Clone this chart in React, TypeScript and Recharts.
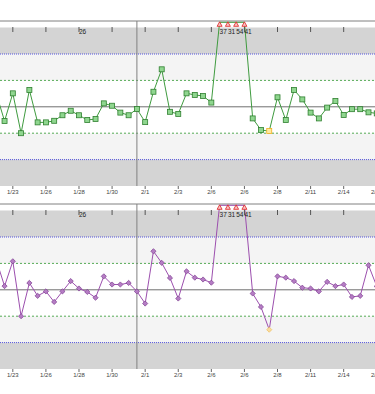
import React from 'react';
import { ComposedChart, Line, XAxis, YAxis, ReferenceArea, ReferenceLine } from 'recharts';

// x-axis labels, one every 4 runs starting at run index 2
const tickLabels = ['1/23', '1/26', '1/28', '1/30', '2/1', '2/3', '2/6', '2/6', '2/8', '2/11', '2/14', '2/16'];
const FIRST_TICK = 2;
const TICK_STEP = 4;

// values in SD units, runs 0..46 (4 = above range)
const topValues = [
  0.5, -0.54, 0.51, -1.0, 0.64, -0.59, -0.59, -0.53, -0.32, -0.15,
  -0.32, -0.5, -0.46, 0.13, 0.04, -0.22, -0.32, -0.08, -0.58, 0.57,
  1.42, -0.19, -0.27, 0.51, 0.45, 0.41, 0.16, 4, 4, 4,
  4, -0.44, -0.88, -0.92, 0.36, -0.5, 0.64, 0.28, -0.22, -0.44,
  -0.03, 0.22, -0.31, -0.09, -0.09, -0.21, -0.25,
];
const bottomValues = [
  1.13, 0.14, 1.08, -1.0, 0.26, -0.23, -0.06, -0.46, -0.06, 0.33,
  0.05, -0.08, -0.3, 0.51, 0.2, 0.2, 0.26, -0.06, -0.52, 1.46,
  1.02, 0.45, -0.33, 0.7, 0.46, 0.39, 0.27, 4, 4, 4,
  4, -0.14, -0.65, -1.51, 0.51, 0.46, 0.33, 0.08, 0.05, -0.06,
  0.3, 0.14, 0.2, -0.27, -0.23, 0.93, 0.13,
];
const warnRuns = [33];
const notes = [
  { i: 10, text: '26' },
  { i: 27, text: '37' },
  { i: 28, text: '31' },
  { i: 29, text: '54' },
  { i: 30, text: '41' },
];
const markerRun = 17;

const Y_MIN = -3;
const Y_MAX = 3.25;
const CLAMP = 3.2;
const X_MIN = 0.45;
const X_MAX = 47.6;

const majorTicks = tickLabels.map((_, k) => FIRST_TICK + k * TICK_STEP);
const topTicks = new Set([...majorTicks, ...notes.map(n => n.i)]);

const data = topValues.map((v, i) => ({
  i,
  top: Math.min(v, CLAMP),
  bottom: Math.min(bottomValues[i], CLAMP),
  edge: topTicks.has(i) ? Y_MAX : null,
}));

// small inner ticks along the top frame plus the run notes
const edgeDot = (props: any) => {
  const { cx, cy, index } = props;
  const key = `edge-${index}`;
  if (cx == null || cy == null || !topTicks.has(index)) return <g key={key} />;
  const note = notes.find(n => n.i === index);
  const major = (index - FIRST_TICK) % TICK_STEP === 0;
  return (
    <g key={key}>
      {major && <line x1={cx} x2={cx} y1={cy + 6} y2={cy + 11} stroke="#555" strokeWidth={1} />}
      {note && (
        <text x={cx} y={cy + 13} fontSize={6.5} fill="#222" textAnchor="start">
          {note.text}
        </text>
      )}
    </g>
  );
};

const makeDot = (raw: number[], kind: 'square' | 'diamond') => (props: any) => {
  const { cx, cy, index } = props;
  const key = `dot-${index}`;
  if (cx == null || cy == null) return <g key={key} />;
  if (raw[index] > CLAMP) {
    return (
      <polygon
        key={key}
        points={`${cx},${cy - 0.5} ${cx - 2.5},${cy + 4} ${cx + 2.5},${cy + 4}`}
        fill="#f7c4c4"
        stroke="#e02020"
        strokeWidth={0.8}
      />
    );
  }
  const warn = warnRuns.includes(index);
  if (kind === 'square') {
    return (
      <rect
        key={key}
        x={cx - 2.5}
        y={cy - 2.5}
        width={5}
        height={5}
        fill={warn ? '#ffe9a0' : '#8fd68f'}
        stroke={warn ? '#f0b020' : '#2f7f2f'}
        strokeWidth={0.8}
      />
    );
  }
  const s = 2.6;
  return (
    <polygon
      key={key}
      points={`${cx},${cy - s} ${cx + s},${cy} ${cx},${cy + s} ${cx - s},${cy}`}
      fill={warn ? '#f8dca0' : '#b57cc4'}
      stroke={warn ? '#f0c060' : '#7d3d8f'}
      strokeWidth={0.7}
    />
  );
};

const Panel = ({ dataKey, color, raw, kind }: { dataKey: string; color: string; raw: number[]; kind: 'square' | 'diamond' }) => (
  <ComposedChart width={390} height={200} data={data} margin={{ top: 21, right: 0, bottom: 0, left: 0 }}>
    <XAxis
      type="number"
      dataKey="i"
      domain={[X_MIN, X_MAX]}
      allowDataOverflow
      ticks={majorTicks}
      interval={0}
      height={14}
      tickSize={3}
      tickMargin={1}
      axisLine={false}
      tickLine={{ stroke: '#666' }}
      tick={{ fontSize: 6, fill: '#444' }}
      tickFormatter={(v: number) => tickLabels[(v - FIRST_TICK) / TICK_STEP] ?? ''}
    />
    <YAxis hide type="number" domain={[Y_MIN, Y_MAX]} allowDataOverflow />
    <ReferenceArea y1={2} y2={3} fill="#d4d4d4" fillOpacity={1} stroke="none" />
    <ReferenceArea y1={1} y2={2} fill="#f4f4f4" fillOpacity={1} stroke="none" />
    <ReferenceArea y1={-2} y2={-1} fill="#f4f4f4" fillOpacity={1} stroke="none" />
    <ReferenceArea y1={-3} y2={-2} fill="#d4d4d4" fillOpacity={1} stroke="none" />
    <ReferenceLine y={2} stroke="#5555dd" strokeDasharray="1 1" />
    <ReferenceLine y={-2} stroke="#5555dd" strokeDasharray="1 1" />
    <ReferenceLine y={1} stroke="#55aa55" strokeDasharray="2 2" />
    <ReferenceLine y={-1} stroke="#55aa55" strokeDasharray="2 2" />
    <ReferenceLine y={0} stroke="#707070" />
    <ReferenceLine y={Y_MAX} stroke="#808080" />
    <ReferenceLine x={markerRun} stroke="#808080" />
    <Line
      type="linear"
      dataKey="edge"
      stroke="none"
      dot={edgeDot}
      activeDot={false}
      connectNulls={false}
      isAnimationActive={false}
    />
    <Line
      type="linear"
      dataKey={dataKey}
      stroke={color}
      strokeWidth={1}
      dot={makeDot(raw, kind)}
      activeDot={false}
      isAnimationActive={false}
    />
  </ComposedChart>
);

export default function App() {
  return (
    <div
      style={{
        position: 'absolute',
        left: 0,
        top: 0,
        width: 375,
        height: 394,
        overflow: 'hidden',
        background: '#fff',
        fontFamily: '"Liberation Sans", Arial, sans-serif',
      }}
    >
      <div style={{ position: 'absolute', left: 0, top: 0 }}>
        <Panel dataKey="top" color="#3f9b3f" raw={topValues} kind="square" />
      </div>
      <div style={{ position: 'absolute', left: 0, top: 183 }}>
        <Panel dataKey="bottom" color="#9c4fae" raw={bottomValues} kind="diamond" />
      </div>
    </div>
  );
}
